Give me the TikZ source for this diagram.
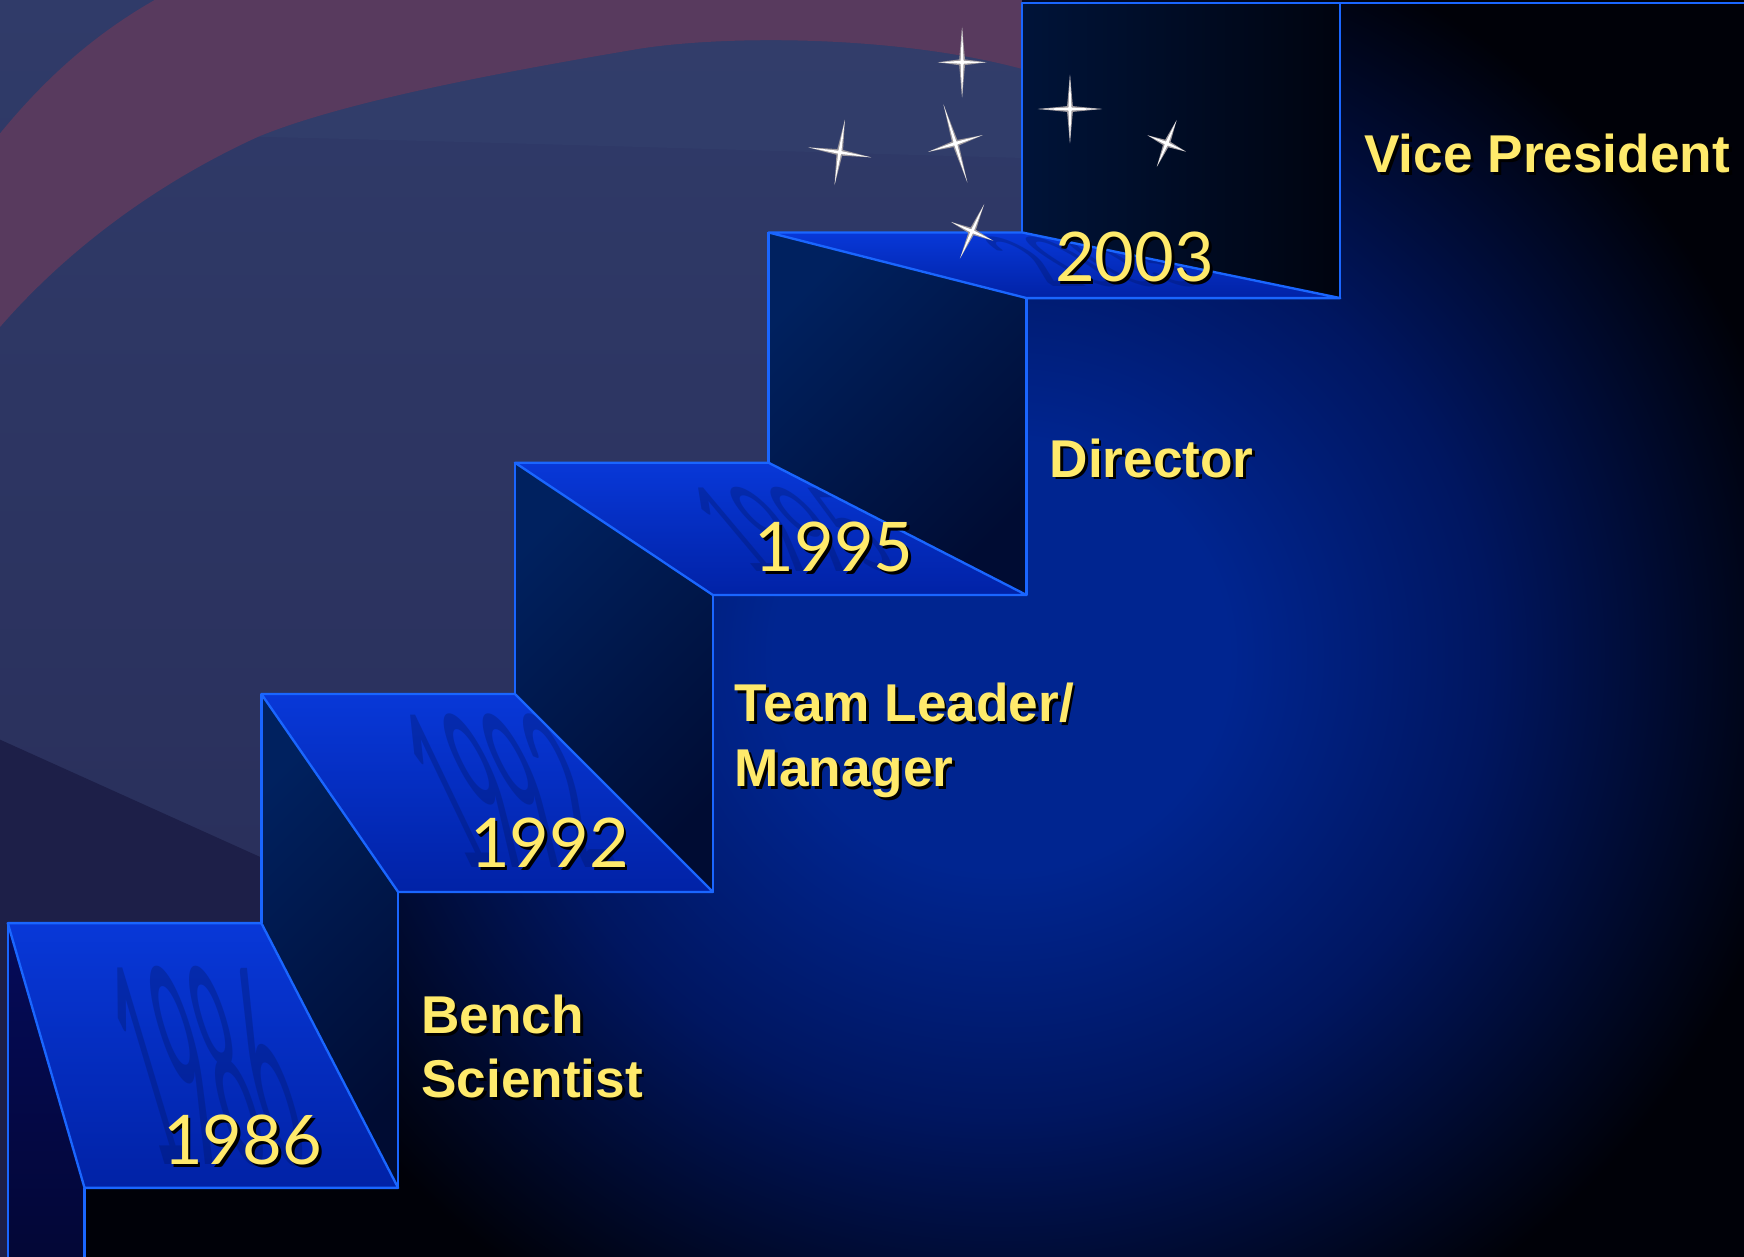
\documentclass[tikz,border=0pt]{standalone}
\usepackage{fontspec}
\setmainfont{Liberation Sans}
\newfontfamily\yearfont{Lato}
\usetikzlibrary{positioning, calc, shapes}

\definecolor{labelyellow}{HTML}{FFEA6B}
\definecolor{edgeblue}{HTML}{1A66FF}
\definecolor{treadtop}{HTML}{0838D8}
\definecolor{treadbot}{HTML}{0122A6}
\definecolor{riserleft}{HTML}{00215F}
\definecolor{riserright}{HTML}{000C33}
\definecolor{glowcore}{HTML}{002590}
\definecolor{glowmid}{HTML}{001660}
\definecolor{glowedge}{HTML}{000108}
\definecolor{slatetop}{HTML}{303B69}
\definecolor{slatebot}{HTML}{272B56}
\definecolor{bandred}{HTML}{583A5E}
\definecolor{hazeblue}{HTML}{36436F}
\definecolor{duskblue}{HTML}{1D1F48}
\definecolor{sidenavy}{HTML}{050B5A}
\definecolor{starsilver}{HTML}{9C979C}

\pgfdeclareradialshading{stairglow}{\pgfpoint{0bp}{0bp}}{color(0bp)=(glowcore); color(7bp)=(glowcore); color(15bp)=(glowmid); color(25bp)=(glowedge); color(50bp)=(glowedge)}

\newcommand{\shadowed}[1]{\leavevmode\rlap{\kern0.7pt\raisebox{-0.7pt}{\color{black}#1}}#1}

\tikzset{
  tread/.style={top color=treadtop, bottom color=treadbot},
  riser/.style={top color=riserleft, bottom color=riserright, shading angle=45},
  edge/.style={draw=edgeblue, line width=0.6pt, line join=round},
  role/.style={text=labelyellow, font=\bfseries\fontsize{13.6}{16}\selectfont, anchor=base west, inner sep=0pt},
  year/.style={text=labelyellow, font=\yearfont\fontsize{17.5}{20}\selectfont, anchor=base west, inner sep=0pt},
  reflection/.style={text=treadbot!55!black, opacity=0.3, font=\yearfont\fontsize{17.5}{20}\selectfont, anchor=base west, inner sep=0pt},
  pics/sparkle/.style args={#1/#2}{code={
    \fill[starsilver] (0,-#1-1) -- (2.6,-2.6) -- (#2+1,0) -- (2.6,2.6) -- (0,#1+1) -- (-2.6,2.6) -- (-#2-1,0) -- (-2.6,-2.6) -- cycle;
    \fill[white] (0,-#1) -- (1.3,-1.3) -- (#2,0) -- (1.3,1.3) -- (0,#1) -- (-1.3,1.3) -- (-#2,0) -- (-1.3,-1.3) -- cycle;
    \fill[white] (0,0) circle (2);
  }}
}

\begin{document}
\begin{tikzpicture}[x=0.01cm, y=-0.01cm]
\useasboundingbox (0,0) rectangle (1568,1130);

% corners of the four treads
\coordinate (t1a) at (7,830);   \coordinate (t1b) at (235,830);  \coordinate (t1c) at (358,1068);  \coordinate (t1d) at (76,1068);
\coordinate (t2a) at (235,624); \coordinate (t2b) at (463,624);  \coordinate (t2c) at (641,802);   \coordinate (t2d) at (358,802);
\coordinate (t3a) at (463,416); \coordinate (t3b) at (691,416);  \coordinate (t3c) at (923,535);   \coordinate (t3d) at (641,535);
\coordinate (t4a) at (691,209); \coordinate (t4b) at (919,209);  \coordinate (t4c) at (1205,268);  \coordinate (t4d) at (923,268);
\coordinate (topl) at (919,2.5); \coordinate (topm) at (1205,2.5); \coordinate (topr) at (1568,2.5);
\coordinate (base0) at (7,1130); \coordinate (base1) at (76,1130);

% backdrop
\fill[glowedge] (0,0) rectangle (1568,1130);
\begin{scope}
  \clip (0,0) rectangle (1568,1130);
  \shade[shading=stairglow] (900,590) ellipse (730 and 690);
\end{scope}

% sky behind the stairs
\begin{scope}
  \clip (0,0) -- (919,0) -- (t4b) -- (t4a) -- (t3b) -- (t3a) -- (t2b) -- (t2a) -- (t1b) -- (t1a) -- (base0) -- (0,1130) -- cycle;
  \shade[top color=slatetop, bottom color=slatebot] (0,0) rectangle (919,1130);
  \fill[hazeblue, opacity=0.4] (919,62) .. controls (800,30) and (640,32) .. (568,45) .. controls (420,70) and (300,95) .. (232,123) .. controls (450,128) and (700,136) .. (919,142) -- cycle;
  \fill[bandred] (0,120) .. controls (45,65) and (90,28) .. (139,0) -- (919,0) -- (919,62) .. controls (800,30) and (640,32) .. (568,45) .. controls (420,70) and (300,95) .. (232,123) .. controls (140,165) and (60,225) .. (0,294) -- cycle;
  \fill[duskblue] (0,665) -- (235,771) -- (235,1130) -- (0,1130) -- cycle;
\end{scope}

% side faces
\shade[top color=sidenavy, bottom color=sidenavy!60!black] (t1a) -- (t1d) -- (base1) -- (base0) -- cycle;
\shade[riser] (t2a) -- (t2d) -- (t1c) -- (t1b) -- cycle;
\shade[riser] (t3a) -- (t3d) -- (t2c) -- (t2b) -- cycle;
\shade[riser] (t4a) -- (t4d) -- (t3c) -- (t3b) -- cycle;
\shade[left color=riserleft!60!black, right color=riserright!30!black] (topl) -- (topm) -- (t4c) -- (t4b) -- cycle;

% treads
\shade[tread] (t1a) -- (t1b) -- (t1c) -- (t1d) -- cycle;
\shade[tread] (t2a) -- (t2b) -- (t2c) -- (t2d) -- cycle;
\shade[tread] (t3a) -- (t3b) -- (t3c) -- (t3d) -- cycle;
\shade[tread] (t4a) -- (t4b) -- (t4c) -- (t4d) -- cycle;

% reflections of the years
\begin{scope}
  \clip (t1a) -- (t1b) -- (t1c) -- (t1d) -- cycle;
  \node[reflection, xslant=-0.3, yscale=4] (r1986) at (140,1047) {1986};
\end{scope}
\begin{scope}
  \clip (t2a) -- (t2b) -- (t2c) -- (t2d) -- cycle;
  \node[reflection, xslant=-0.48, yscale=3.1] (r1992) at (416,780) {1992};
\end{scope}
\begin{scope}
  \clip (t3a) -- (t3b) -- (t3c) -- (t3d) -- cycle;
  \node[reflection, xslant=-0.84, yscale=1.7] (r1995) at (672,514) {1995};
\end{scope}
\begin{scope}
  \clip (t4a) -- (t4b) -- (t4c) -- (t4d) -- cycle;
  \node[reflection, xslant=-1.6, yscale=1.0] (r2003) at (944,258) {2003};
\end{scope}

% outlines
\draw[edge] (t1a) -- (t1b) -- (t1c) -- (t1d) -- cycle;
\draw[edge] (t2a) -- (t2b) -- (t2c) -- (t2d) -- cycle;
\draw[edge] (t3a) -- (t3b) -- (t3c) -- (t3d) -- cycle;
\draw[edge] (t4a) -- (t4b) -- (t4c) -- (t4d) -- cycle;
\draw[edge] (t2a) -- (t1b) (t2d) -- (t1c)
            (t3a) -- (t2b) (t3d) -- (t2c)
            (t4a) -- (t3b) (t4d) -- (t3c)
            (t4b) -- (topl) -- (topr) (topm) -- (t4c)
            (t1a) -- (base0) (t1d) -- (base1);

% years
\node[year] (y1986) at (146,1047) {\shadowed{1986}};
\node[year] (y1992) at (422,780) {\shadowed{1992}};
\node[year] (y1995) at (678,514) {\shadowed{1995}};
\node[year] (y2003) at (948,253) {\shadowed{2003}};

% roles
\node[role] (bench) at (378,929) {\shadowed{Bench}};
\node[role] (scientist) at (378,987) {\shadowed{Scientist}};
\node[role] (teamleader) at (660,649) {\shadowed{Team Leader/}};
\node[role] (manager) at (660,707) {\shadowed{Manager}};
\node[role] (director) at (943,429) {\shadowed{Director}};
\node[role] (vicepres) at (1226,155) {\shadowed{Vice President}};

% stars over the top step
\pic (star1) at (865,56) {sparkle=31/21};
\pic[rotate=-9] (star2) at (755,137) {sparkle=29/28};
\pic[rotate=17] (star3) at (859,129) {sparkle=36/25};
\pic (star4) at (962,98) {sparkle=30/28};
\pic[rotate=-23] (star5) at (1049,129) {sparkle=22/18};
\pic[rotate=-24] (star6) at (874,208) {sparkle=26/20};
\end{tikzpicture}
\end{document}
